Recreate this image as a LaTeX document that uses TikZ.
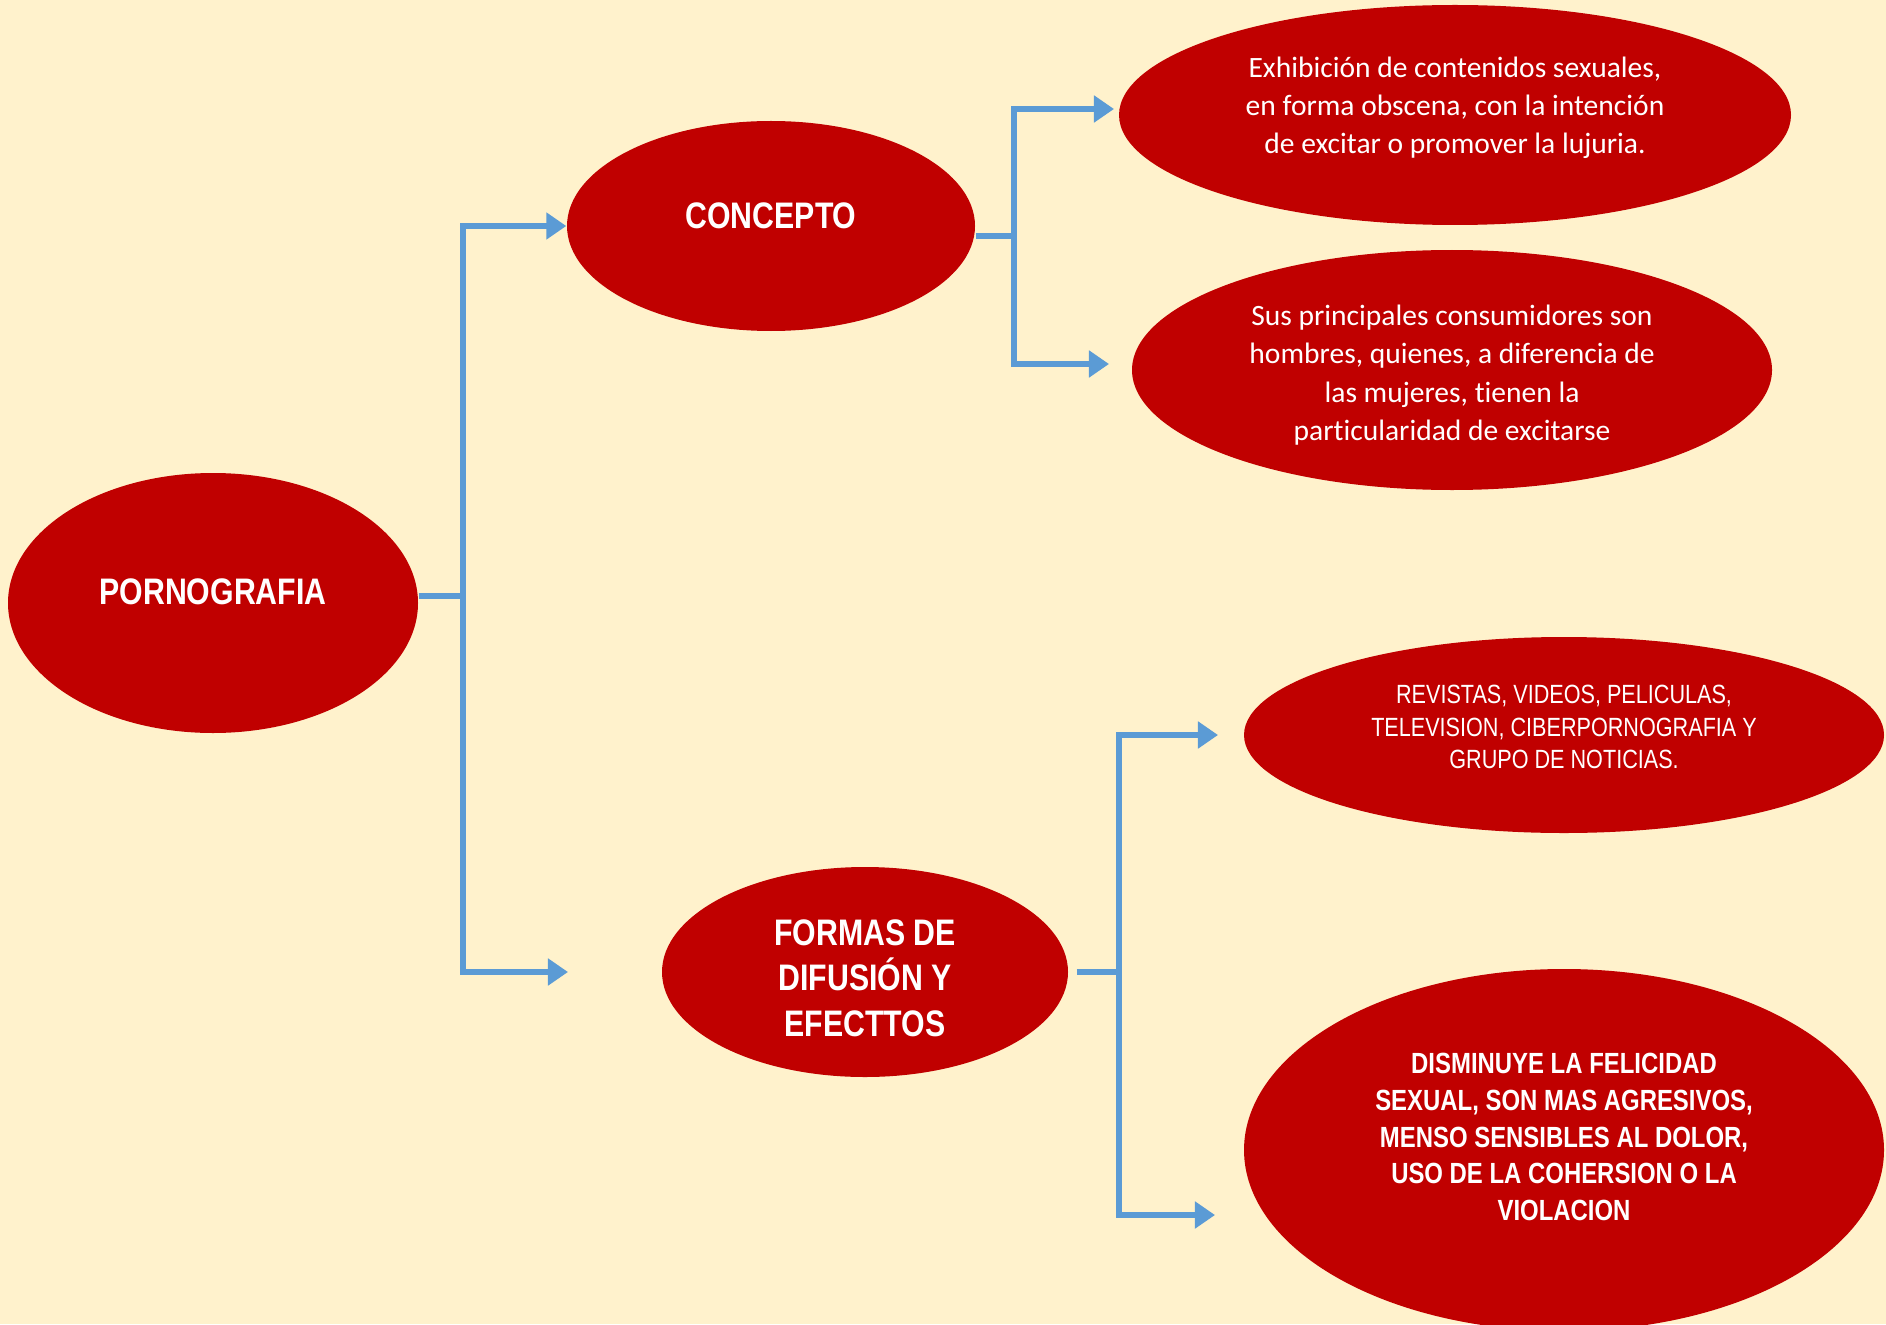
\documentclass[tikz,border=0pt]{standalone}
\usepackage{fontspec}
\setmainfont{Carlito}[Ligatures=NoCommon]
\newfontfamily\narrowfont{Liberation Sans}[FakeStretch=0.82]
\usetikzlibrary{shapes.geometric,arrows.meta}
\definecolor{rojo}{HTML}{C00000}
\definecolor{fondo}{HTML}{FFF2CC}
\definecolor{azul}{HTML}{5B9BD5}

\begin{document}
\begin{tikzpicture}[
		punta/.tip={Triangle[length=5.7pt,width=7.4pt]},
		elipse/.style={ellipse,fill=rojo,inner sep=0pt},
		texto/.style={text=white,inner sep=0pt,align=center},
		titulo/.style={texto,font=\narrowfont\bfseries\fontsize{10.5}{13}\selectfont},
		frase/.style={texto,font=\fontsize{8.4}{10.8}\selectfont},
		conector/.style={draw=azul,line width=1.7pt},
		flechas/.style={conector,punta-punta}]
		\fill[fondo] (0,0) rectangle (18.86,13.24);
		\useasboundingbox (0,0) rectangle (18.86,13.24);
		\node[elipse,minimum width=4.10cm,minimum height=2.60cm] (porno) at (2.13,7.21) {};
		\node[elipse,minimum width=4.08cm,minimum height=2.10cm] (concepto) at (7.71,10.98) {};
		\node[elipse,minimum width=4.06cm,minimum height=2.10cm] (formas) at (8.65,3.52) {};
		\node[elipse,minimum width=6.72cm,minimum height=2.20cm] (exhib) at (14.55,12.09) {};
		\node[elipse,minimum width=6.40cm,minimum height=2.40cm] (consum) at (14.52,9.54) {};
		\node[elipse,minimum width=6.40cm,minimum height=1.96cm] (revistas) at (15.64,5.89) {};
		\node[elipse,minimum width=6.40cm,minimum height=3.62cm] (efectos) at (15.64,1.74) {};
		\node[titulo] (tporno) at ([yshift=0.11cm]porno) {PORNOGRAFIA};
		\node[titulo] (tconcepto) at ([yshift=0.10cm]concepto) {CONCEPTO};
		\node[titulo] (tformas) at ([yshift=-0.06cm]formas) {FORMAS DE\\DIFUSIÓN Y\\EFECTTOS};
		\node[frase] (texhib) at ([yshift=0.07cm]exhib)
			{Exhibición de contenidos sexuales,\\en forma obscena, con la intención\\de excitar o promover la lujuria.};
		\node[frase,font=\fontsize{8.4}{10.9}\selectfont] (tconsum) at ([yshift=-0.05cm]consum)
			{Sus principales consumidores son\\hombres, quienes, a diferencia de\\las mujeres, tienen la\\particularidad de excitarse};
		\node[texto,font=\narrowfont\fontsize{7.5}{9.2}\selectfont] (trevistas) at ([yshift=0.08cm]revistas)
			{REVISTAS, VIDEOS, PELICULAS,\\TELEVISION, CIBERPORNOGRAFIA Y\\GRUPO DE NOTICIAS.};
		\node[texto,font=\narrowfont\bfseries\fontsize{8.3}{10.4}\selectfont] (tefectos) at ([yshift=0.13cm]efectos)
			{DISMINUYE LA FELICIDAD\\SEXUAL, SON MAS AGRESIVOS,\\MENSO SENSIBLES AL DOLOR,\\USO DE LA COHERSION O LA\\VIOLACION};
		\coordinate (pJ) at (4.63,7.28);
		\coordinate (pB) at (5.68,3.52);
		\coordinate (cJ) at (10.14,10.88);
		\coordinate (cT) at (11.14,12.15);
		\coordinate (cB) at (11.09,9.60);
		\coordinate (fJ) at (11.19,3.52);
		\coordinate (fT) at (12.18,5.89);
		\coordinate (fB) at (12.15,1.09);
		\draw[conector] (porno.east |- pJ) -- (pJ);
		\draw[flechas] (concepto.west) -| (pJ) |- (pB);
		\draw[conector] (concepto.east |- cJ) -- (cJ);
		\draw[flechas] (cT) -| (cJ) |- (cB);
		\draw[conector] ([xshift=2.3pt]formas.east) -- (fJ);
		\draw[flechas] (fT) -| (fJ) |- (fB);
	\end{tikzpicture}
\end{document}
